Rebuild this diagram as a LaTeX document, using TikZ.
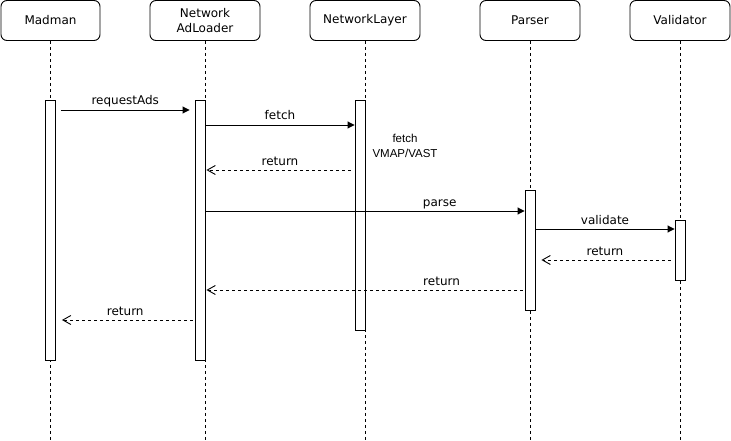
\documentclass[tikz,border=0pt]{standalone}
\usepackage{fontspec}
\setmainfont{DejaVu Sans}
\newfontfamily\libsans{Liberation Sans}
\usetikzlibrary{arrows.meta}
\begin{document}
\begin{tikzpicture}[x=1pt,y=-1pt,
  hdr/.style={draw, rounded corners=6pt, minimum height=40pt, align=center, font=\fontsize{12}{14.5}\selectfont, line width=0.9pt, fill=white, inner sep=0pt},
  act/.style={draw, fill=white, minimum width=10pt, inner sep=0pt, line width=0.9pt},
  life/.style={dash pattern=on 3pt off 3pt, line width=0.9pt},
  msg/.style={line width=0.9pt, -{Triangle[length=7pt,width=7pt]}},
  ret/.style={line width=0.9pt, dash pattern=on 3pt off 3pt, -{Straight Barb[length=8pt,width=9pt]}},
  lbl/.style={font=\fontsize{12}{14}\selectfont, inner sep=0pt, anchor=base, yshift=5pt}
]
\useasboundingbox (0,0) rectangle (731,441);
% headers
\node[hdr, minimum width=99pt] (hMad) at (50.5,20.5) {Madman};
\node[hdr, minimum width=110pt] (hNAL) at (205,20.5) {Network\\AdLoader};
\node[hdr, minimum width=110pt] (hNL) at (365,20.5) {NetworkLayer};
\node[hdr, minimum width=100pt] (hPar) at (530,20.5) {Parser};
\node[hdr, minimum width=100pt] (hVal) at (680,20.5) {Validator};
% lifeline ends
\coordinate (eMad) at (50.5,441);
\coordinate (eNAL) at (205,441);
\coordinate (eNL) at (365,441);
\coordinate (ePar) at (530,441);
\coordinate (eVal) at (680,441);
\draw[life] (hMad) -- (eMad);
\draw[life] (hNAL) -- (eNAL);
\draw[life] (hNL) -- (eNL);
\draw[life] (hPar) -- (ePar);
\draw[life] (hVal) -- (eVal);
% activations
\node[act, minimum height=260pt] (aMad) at (50.5,230) {};
\node[act, minimum height=260pt] (aNAL) at (200,230) {};
\node[act, minimum height=230pt] (aNL) at (360,215) {};
\node[act, minimum height=120pt] (aPar) at (530,250) {};
\node[act, minimum height=60pt] (aVal) at (680,250) {};
% messages
\draw[msg, shorten <=5pt, shorten >=5pt] (aMad.east |- 0,110) -- node[lbl]{requestAds} (aNAL.west |- 0,110);
\draw[msg] (aNAL.east |- 0,125) -- node[lbl]{fetch} (aNL.west |- 0,125);
\draw[ret, shorten <=4pt, shorten >=1pt] (aNL.west |- 0,170) -- node[lbl]{return} (aNAL.east |- 0,170);
\draw[msg] (aNAL.east |- 0,211) -- node[lbl, pos=0.734]{parse} (aPar.west |- 0,211);
\draw[msg] (aPar.east |- 0,229) -- node[lbl]{validate} (aVal.west |- 0,229);
\draw[ret, shorten <=4pt, shorten >=6pt] (aVal.west |- 0,260) -- node[lbl]{return} (aPar.east |- 0,260);
\draw[ret, shorten <=2pt, shorten >=1pt] (aPar.west |- 0,290) -- node[lbl, pos=0.26]{return} (aNAL.east |- 0,290);
\draw[ret, shorten <=2pt, shorten >=6pt] (aNAL.west |- 0,320) -- node[lbl]{return} (aMad.east |- 0,320);
% note
\node[font=\libsans\fontsize{11.5}{15}\selectfont, align=center, inner sep=0pt] (fv) at (405,145.5) {fetch\\VMAP/VAST};
\end{tikzpicture}
\end{document}
